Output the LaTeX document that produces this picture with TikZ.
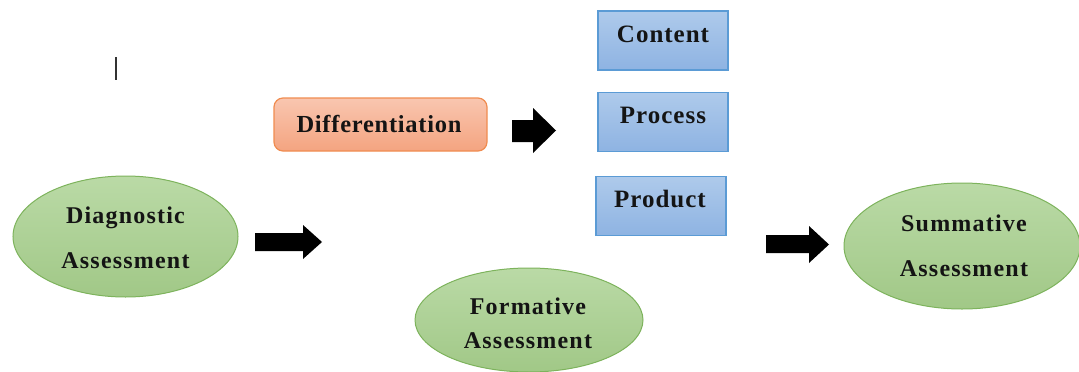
\documentclass[tikz,border=0pt]{standalone}
\usepackage{fontspec}
\setmainfont{Liberation Serif}
\newfontfamily\ellfont[LetterSpace=5]{Liberation Serif}
\newfontfamily\boxfont[LetterSpace=4]{Liberation Serif}
\newfontfamily\difffont[LetterSpace=3]{Liberation Serif}
\usetikzlibrary{shapes.geometric}
\definecolor{orTop}{HTML}{F9C6B0}
\definecolor{orBot}{HTML}{F4A480}
\definecolor{orLine}{HTML}{F08C50}
\definecolor{blTop}{HTML}{AECAEB}
\definecolor{blBot}{HTML}{8EB3E2}
\definecolor{blLine}{HTML}{5B9BD5}
\definecolor{grTop}{HTML}{BADAA6}
\definecolor{grBot}{HTML}{A1C887}
\definecolor{grLine}{HTML}{7DB35C}
\definecolor{txt}{HTML}{141414}
\tikzset{
  assess/.style={ellipse, draw=grLine, line width=1pt, top color=grTop, bottom color=grBot, inner sep=0pt},
  assesstext/.style={font=\fontsize{24}{28}\ellfont\bfseries, text=txt, inner sep=0pt, anchor=base},
  facet/.style={rectangle, draw=blLine, line width=1.3pt, top color=blTop, bottom color=blBot,
    inner sep=0pt, minimum width=130pt, minimum height=59pt},
  facettext/.style={font=\fontsize{25}{28}\boxfont\bfseries, text=txt, inner sep=0pt, anchor=base},
  diffbox/.style={rectangle, rounded corners=9pt, draw=orLine, line width=1.2pt, top color=orTop, bottom color=orBot,
    inner sep=0pt, minimum width=213pt, minimum height=53pt},
  difftext/.style={font=\fontsize{24.5}{28}\difffont\bfseries, text=txt, inner sep=0pt, anchor=base},
  blockarrow/.style={fill=black}
}
\begin{document}
\begin{tikzpicture}[x=1pt,y=-1pt]
\useasboundingbox (0,0) rectangle (1079,372);
% cursor mark
\draw[line width=1.5pt, color=black!80] (116,57) -- (116,80);
% Differentiation
\node[diffbox] (diff) at (380.5,124.5) {};
\node[difftext] (diffT) at (379,132.5) {Differentiation};
% boxes
\node[facet] (content) at (663,40.5) {};
\node[facettext] (contentT) at (663,42) {Content};
\node[facet] (process) at (663,122) {};
\node[facettext] (processT) at (663,123.5) {Process};
\node[facet] (product) at (661,206) {};
\node[facettext] (productT) at (660,207) {Product};
% ellipses
\node[assess, minimum width=225pt, minimum height=121pt] (diag) at (125.5,236.5) {};
\node[assesstext] (diagT1) at (125.5,223.3) {Diagnostic};
\node[assesstext] (diagT2) at (125.5,268) {Assessment};
\node[assess, minimum width=236pt, minimum height=126pt] (summ) at (962,246) {};
\node[assesstext] (summT1) at (964,231.5) {Summative};
\node[assesstext] (summT2) at (964,276.5) {Assessment};
\node[assess, minimum width=228pt, minimum height=104pt] (form) at (529,320) {};
\node[assesstext] (formT1) at (528,314.3) {Formative};
\node[assesstext] (formT2) at (528,348.3) {Assessment};
% block arrows
\fill[blockarrow] (512,120) -- (533,120) -- (533,108) -- (556,130.5) -- (533,153) -- (533,142) -- (512,142) -- cycle;
\fill[blockarrow] (255,233) -- (303,233) -- (303,225) -- (322,242) -- (303,259) -- (303,251) -- (255,251) -- cycle;
\fill[blockarrow] (766,235) -- (809,235) -- (809,226) -- (829,244.5) -- (809,263) -- (809,253) -- (766,253) -- cycle;
\end{tikzpicture}
\end{document}
